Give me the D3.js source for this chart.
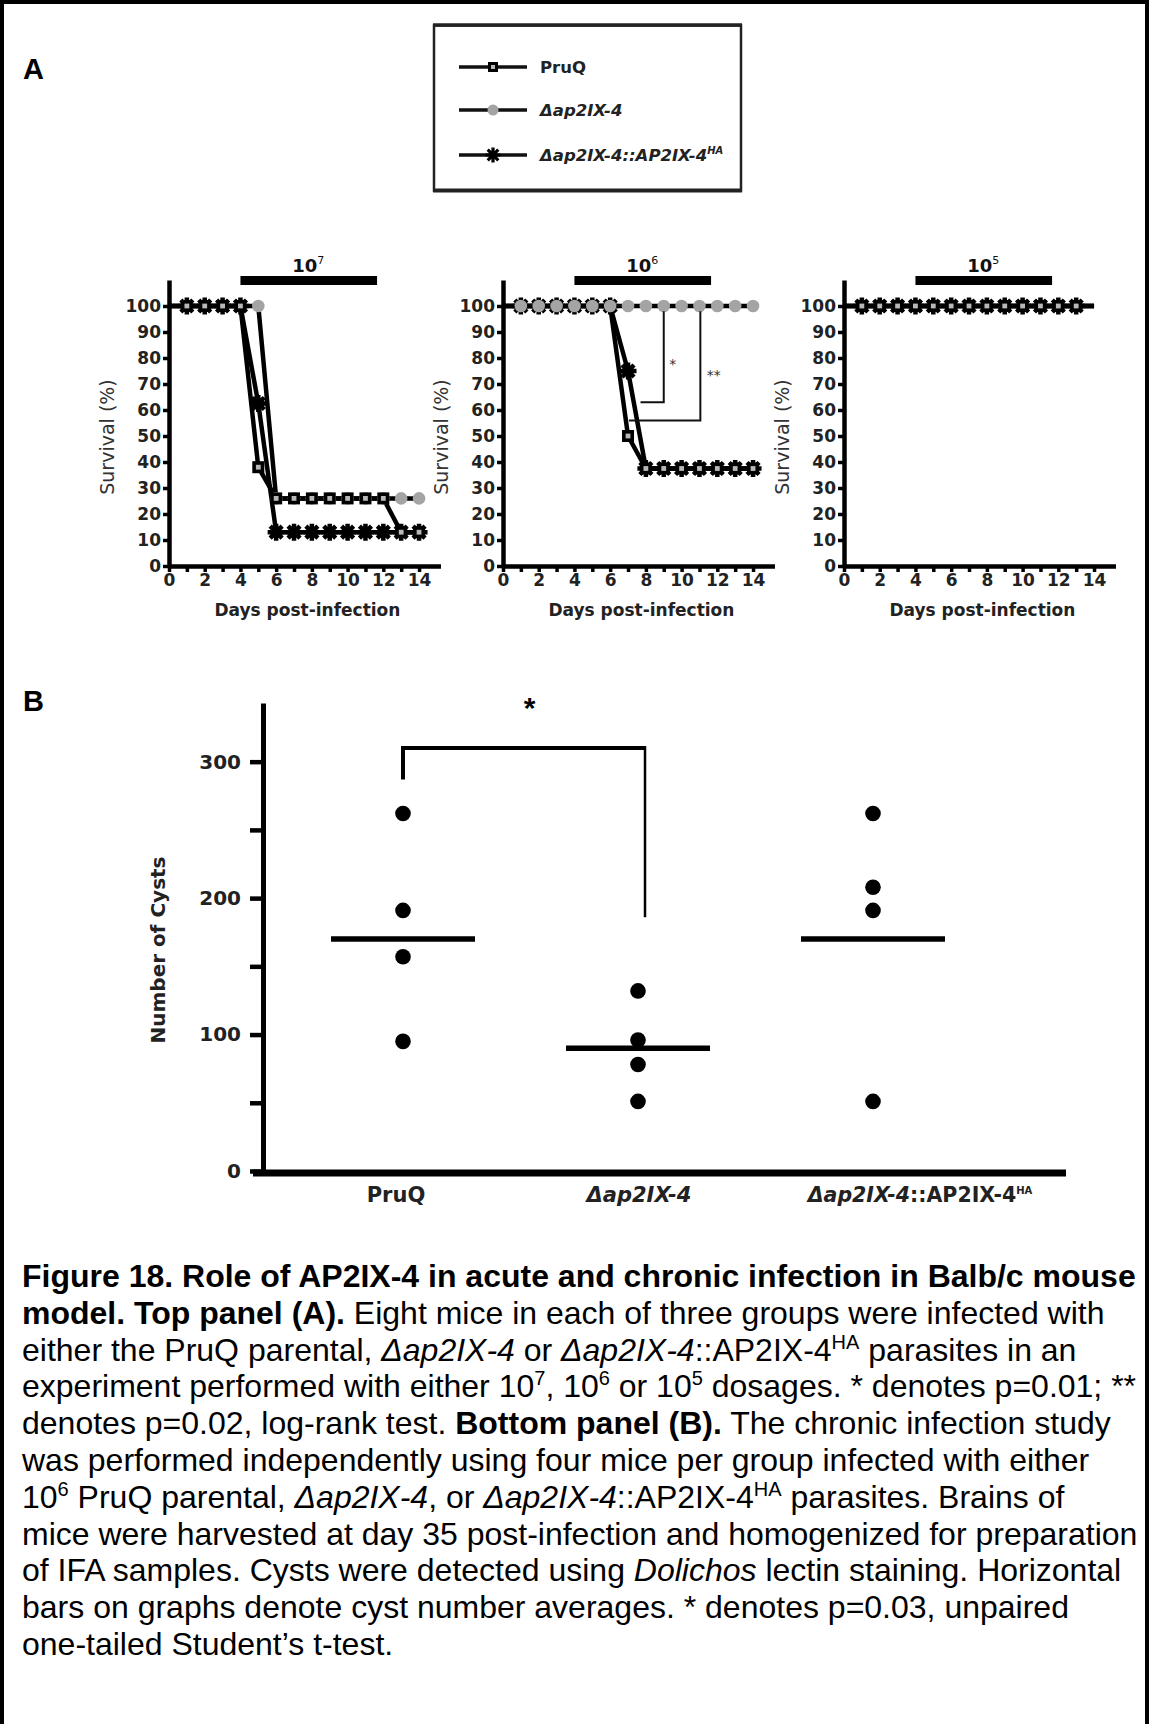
<!DOCTYPE html>
<html>
<head>
<meta charset="utf-8">
<script src="https://cdn.jsdelivr.net/npm/d3@7"></script>
<style>
  body { margin: 0; background: #fff; }
  svg { display: block; }
  text { white-space: pre; }
</style>
</head>
<body>
<div id="chart"></div>
<script>
// ---- data: survival (%) per day, panel A ----
const days = [0, 1, 2, 3, 4, 5, 6, 7, 8, 9, 10, 11, 12, 13, 14];
const markerDaysFull = [1, 2, 3, 4, 5, 6, 7, 8, 9, 10, 11, 12, 13, 14];
const markerDaysShort = [1, 2, 3, 4, 5, 6, 7, 8, 9, 10, 11, 12, 13];

// dose 10^7
const pruq7 = [100, 100, 100, 100, 100, 38, 26, 26, 26, 26, 26, 26, 26, 13, 13];
const ko7 = [100, 100, 100, 100, 100, 100, 26, 26, 26, 26, 26, 26, 26, 26, 26];
const comp7 = [100, 100, 100, 100, 100, 62.5, 13, 13, 13, 13, 13, 13, 13, 13, 13];
// dose 10^6
const pruq6 = [100, 100, 100, 100, 100, 100, 100, 50, 37.5, 37.5, 37.5, 37.5, 37.5, 37.5, 37.5];
const ko6 = [100, 100, 100, 100, 100, 100, 100, 100, 100, 100, 100, 100, 100, 100, 100];
const comp6 = [100, 100, 100, 100, 100, 100, 100, 75, 37.5, 37.5, 37.5, 37.5, 37.5, 37.5, 37.5];
// dose 10^5
const pruq5 = [100, 100, 100, 100, 100, 100, 100, 100, 100, 100, 100, 100, 100, 100, 100];
const ko5 = [100, 100, 100, 100, 100, 100, 100, 100, 100, 100, 100, 100, 100, 100, 100];
const comp5 = [100, 100, 100, 100, 100, 100, 100, 100, 100, 100, 100, 100, 100, 100, 100];

const doseExponents = ["7", "6", "5"];
const survivalTicks = [0, 10, 20, 30, 40, 50, 60, 70, 80, 90, 100];
const dayLabels = [0, 2, 4, 6, 8, 10, 12, 14];

// log-rank brackets in the 10^6 panel: [label, day of vertical, top %, bottom %, day of end, label day, label %]
const sig6 = [
  ["*", 9.0, 98, 63, 7.7, 9.5, 78],
  ["**", 11.05, 98, 56, 7.05, 11.8, 74]
];

// ---- data: cysts per brain, panel B ----
const groups = ["PruQ", "KO", "COMP"];
const cystsPruQ = [262, 191, 157, 95];
const cystsKO = [132, 96, 78, 51];
const cystsComp = [262, 208, 191, 51];
const cystMeans = [170, 90, 170];
const cystTicks = [0, 50, 100, 150, 200, 250, 300];

const FONT = '"Liberation Sans", Arial, Helvetica, sans-serif';
const CFONT = '"DejaVu Sans", Verdana, sans-serif';   // wide face used inside the figure
const W = 1149, H = 1724;

const svg = d3.select("#chart").append("svg")
  .attr("width", W).attr("height", H)
  .attr("font-family", FONT);

// outer frame (left, top, right)
svg.append("path")
  .attr("d", `M2,${H} V2 H${W - 2} V${H}`)
  .attr("fill", "none").attr("stroke", "#000").attr("stroke-width", 4);

// panel letters
svg.append("text").attr("x", 23).attr("y", 79).text("A")
  .attr("font-size", 29).attr("font-weight", "bold");
svg.append("text").attr("x", 23).attr("y", 711).text("B")
  .attr("font-size", 29).attr("font-weight", "bold");

// ---- marker drawing ----
function drawSquare(g, cx, cy, s) {
  g.append("rect").attr("x", cx - s / 2).attr("y", cy - s / 2)
    .attr("width", s).attr("height", s).attr("fill", "#000");
  g.append("rect").attr("x", cx - s * 0.2).attr("y", cy - s * 0.2)
    .attr("width", s * 0.4).attr("height", s * 0.4).attr("fill", "#b8b8b8");
}
function drawStar(g, cx, cy, r, w) {
  const d = r * 0.7071;
  g.append("path")
    .attr("d", `M${cx - r},${cy}H${cx + r}M${cx},${cy - r}V${cy + r}` +
      `M${cx - d},${cy - d}L${cx + d},${cy + d}M${cx - d},${cy + d}L${cx + d},${cy - d}`)
    .attr("stroke", "#000").attr("stroke-width", w).attr("stroke-linecap", "butt");
}
function drawCircle(g, cx, cy, r) {
  g.append("circle").attr("cx", cx).attr("cy", cy).attr("r", r).attr("fill", "#a4a4a4");
}

// ---- legend ----
const legend = svg.append("g").attr("font-family", CFONT);
legend.append("rect").attr("x", 434).attr("y", 25.5).attr("width", 307).attr("height", 165)
  .attr("fill", "none").attr("stroke", "#222").attr("stroke-width", 2.5);
legend.append("line").attr("x1", 433).attr("x2", 742).attr("y1", 25).attr("y2", 25)
  .attr("stroke", "#222").attr("stroke-width", 3.5);
legend.append("line").attr("x1", 433).attr("x2", 742).attr("y1", 190.5).attr("y2", 190.5)
  .attr("stroke", "#222").attr("stroke-width", 4);
const legRows = [67, 110, 155];
legRows.forEach((yy, i) => {
  legend.append("line").attr("x1", 459).attr("x2", 527).attr("y1", yy).attr("y2", yy)
    .attr("stroke", "#111").attr("stroke-width", 3.5);
  if (i === 0) drawSquare(legend, 493, yy, 10);
  if (i === 1) drawCircle(legend, 493, yy, 5.5);
  if (i === 2) drawStar(legend, 493, yy, 7.5, 3.2);
});
const legText = (yy) => legend.append("text").attr("x", 540).attr("y", yy + 6)
  .attr("font-size", 16.5).attr("font-weight", "bold").attr("fill", "#222");
legText(legRows[0]).text("PruQ");
legText(legRows[1]).attr("font-style", "italic").text("\u0394ap2IX-4");
const lt3 = legText(legRows[2]).attr("font-style", "italic");
lt3.append("tspan").text("\u0394ap2IX-4::AP2IX-4");
lt3.append("tspan").attr("font-size", 10).attr("dy", -7).text("HA");

// ---- survival panels ----
const panels = [
  { x0: 169, series: [pruq7, ko7, comp7], markerDays: markerDaysFull, order: ["circle", "star", "square"], sig: [] },
  { x0: 503, series: [pruq6, ko6, comp6], markerDays: markerDaysFull, order: ["star", "square", "circle"], sig: sig6 },
  { x0: 844, series: [pruq5, ko5, comp5], markerDays: markerDaysShort, order: ["circle", "star", "square"], sig: [] }
];
const dayPx = 17.86;
const yS = d3.scaleLinear().domain([0, 110]).range([566, 280]);

panels.forEach((p, pi) => {
  const x = d3.scaleLinear().domain([0, 15.2]).range([p.x0, p.x0 + 15.2 * dayPx]);
  const g = svg.append("g").attr("font-family", CFONT);

  // dose bar and title
  g.append("rect").attr("x", x(4)).attr("y", 276)
    .attr("width", x(11.65) - x(4)).attr("height", 9).attr("fill", "#000");
  const t = g.append("text").attr("x", x(7.8)).attr("y", 272)
    .attr("text-anchor", "middle").attr("font-size", 18).attr("font-weight", "bold").attr("fill", "#111");
  t.append("tspan").text("10");
  t.append("tspan").attr("font-size", 11).attr("dy", -8).attr("font-weight", "normal").text(doseExponents[pi]);

  // axes
  const ya = g.append("g").attr("transform", `translate(${p.x0},0)`)
    .call(d3.axisLeft(yS).tickValues(survivalTicks).tickSize(6).tickPadding(2).tickSizeOuter(0));
  const xa = g.append("g").attr("transform", `translate(0,${yS(0)})`)
    .call(d3.axisBottom(x).tickValues(days).tickSize(6).tickPadding(2).tickSizeOuter(0)
      .tickFormat(d => dayLabels.includes(d) ? d : ""));
  [ya, xa].forEach(a => {
    a.attr("font-family", CFONT).attr("font-size", 17);
    a.select(".domain").attr("stroke", "#000").attr("stroke-width", 4.5);
    a.selectAll(".tick line").attr("stroke", "#000").attr("stroke-width", 3.5);
    a.selectAll(".tick text").attr("fill", "#222").attr("font-weight", "bold");
  });

  // axis titles
  g.append("text")
    .attr("transform", `translate(${p.x0 - 55},437) rotate(-90)`)
    .attr("text-anchor", "middle").attr("font-size", 19).attr("fill", "#333")
    .text("Survival (%)");
  g.append("text").attr("x", x(7.75)).attr("y", 616)
    .attr("text-anchor", "middle").attr("font-size", 17).attr("font-weight", "bold").attr("fill", "#222")
    .text("Days post-infection");

  // survival lines
  const line = d3.line().x((d, i) => x(days[i])).y(d => yS(d));
  p.series.forEach(s => {
    g.append("path").datum(s).attr("d", line)
      .attr("fill", "none").attr("stroke", "#000").attr("stroke-width", 4.5)
      .attr("stroke-linejoin", "round");
  });

  // markers
  const mg = g.append("g");
  p.order.forEach(kind => {
    p.markerDays.forEach(dd => {
      const i = days.indexOf(dd);
      if (kind === "square") drawSquare(mg, x(dd), yS(p.series[0][i]), 12);
      if (kind === "circle") drawCircle(mg, x(dd), yS(p.series[1][i]), 6.3);
      if (kind === "star") drawStar(mg, x(dd), yS(p.series[2][i]), 8.5, 4.5);
    });
  });

  // significance brackets
  p.sig.forEach(([lab, dv, top, bot, dEnd, ldx, ly]) => {
    g.append("path")
      .attr("d", `M${x(dv)},${yS(top)} V${yS(bot)} H${x(dEnd)}`)
      .attr("fill", "none").attr("stroke", "#111").attr("stroke-width", 2);
    g.append("text").attr("x", x(ldx)).attr("y", yS(ly) + 6)
      .attr("text-anchor", "middle").attr("font-size", 14).attr("fill", "#333").text(lab);
  });
});

// ---- panel B: cyst counts ----
const yB = d3.scaleLinear().domain([0, 343]).range([1171, 703]);
const xB = d3.scalePoint().domain(groups).range([403, 873]);
const gB = svg.append("g").attr("font-family", CFONT);

const yaB = gB.append("g").attr("transform", "translate(263,0)")
  .call(d3.axisLeft(yB).tickValues(cystTicks).tickSize(13).tickPadding(9).tickSizeOuter(0)
    .tickFormat(d => d % 100 === 0 ? d : ""));
yaB.attr("font-family", CFONT).attr("font-size", 20);
yaB.select(".domain").attr("stroke", "#000").attr("stroke-width", 5);
yaB.selectAll(".tick line").attr("stroke", "#000").attr("stroke-width", 4.5);
yaB.selectAll(".tick text").attr("fill", "#222").attr("font-weight", "bold");

// category baseline
gB.append("line").attr("x1", 253).attr("x2", 1066)
  .attr("y1", yB(0) + 2).attr("y2", yB(0) + 2)
  .attr("stroke", "#000").attr("stroke-width", 7);

gB.append("text")
  .attr("transform", `translate(165,950) rotate(-90)`)
  .attr("text-anchor", "middle").attr("font-size", 20).attr("font-weight", "bold")
  .attr("fill", "#222")
  .text("Number of Cysts");

// category labels
const labOffset = [-7, 1, 47];
const labY = 1202;
gB.append("text").attr("x", xB(groups[0]) + labOffset[0]).attr("y", labY)
  .attr("text-anchor", "middle").attr("font-size", 21).attr("font-weight", "bold").attr("fill", "#222")
  .text("PruQ");
gB.append("text").attr("x", xB(groups[1]) + labOffset[1]).attr("y", labY)
  .attr("text-anchor", "middle").attr("font-size", 21).attr("font-weight", "bold").attr("fill", "#222")
  .attr("font-style", "italic").text("\u0394ap2IX-4");
const l2 = gB.append("text").attr("x", xB(groups[2]) + labOffset[2]).attr("y", labY)
  .attr("text-anchor", "middle").attr("font-size", 20.5).attr("font-weight", "bold").attr("fill", "#222");
l2.append("tspan").attr("font-style", "italic").text("\u0394ap2IX-4");
l2.append("tspan").text("::AP2IX-4");
l2.append("tspan").attr("font-size", 10).attr("dy", -8).text("HA");

// means
cystMeans.forEach((m, i) => {
  gB.append("line")
    .attr("x1", xB(groups[i]) - 72).attr("x2", xB(groups[i]) + 72)
    .attr("y1", yB(m)).attr("y2", yB(m))
    .attr("stroke", "#000").attr("stroke-width", 5.5);
});

// dots
[cystsPruQ, cystsKO, cystsComp].forEach((vals, i) => {
  gB.selectAll(null).data(vals).join("circle")
    .attr("cx", xB(groups[i])).attr("cy", d => yB(d)).attr("r", 7.8).attr("fill", "#000");
});

// t-test bracket
gB.append("path")
  .attr("d", `M${xB(groups[0])},${yB(287)} V${yB(310)} H${xB(groups[1]) + 7}`)
  .attr("fill", "none").attr("stroke", "#000").attr("stroke-width", 4);
gB.append("path")
  .attr("d", `M${xB(groups[1]) + 7},${yB(310) - 2} V${yB(186)}`)
  .attr("fill", "none").attr("stroke", "#000").attr("stroke-width", 2.5);
gB.append("text").attr("x", (xB(groups[0]) + xB(groups[1])) / 2 + 9).attr("y", 718)
  .attr("text-anchor", "middle").attr("font-size", 30).attr("font-weight", "bold")
  .attr("font-family", FONT).text("*");

// ---- caption ----
const captionLines = [
  [["Figure 18. Role of AP2IX-4 in acute and chronic infection in Balb/c mouse", "b"]],
  [["model. Top panel (A).", "b"], [" Eight mice in each of three groups were infected with", ""]],
  [["either the PruQ parental, ", ""], ["\u0394ap2IX-4", "i"], [" or ", ""], ["\u0394ap2IX-4", "i"],
   ["::AP2IX-4", ""], ["HA", "sup"], [" parasites in an", ""]],
  [["experiment performed with either 10", ""], ["7", "sup"], [", 10", ""], ["6", "sup"],
   [" or 10", ""], ["5", "sup"], [" dosages. * denotes p=0.01; **", ""]],
  [["denotes p=0.02, log-rank test. ", ""], ["Bottom panel (B).", "b"], [" The chronic infection study", ""]],
  [["was performed independently using four mice per group infected with either", ""]],
  [["10", ""], ["6", "sup"], [" PruQ parental, ", ""], ["\u0394ap2IX-4", "i"], [", or ", ""],
   ["\u0394ap2IX-4", "i"], ["::AP2IX-4", ""], ["HA", "sup"], [" parasites. Brains of", ""]],
  [["mice were harvested at day 35 post-infection and homogenized for preparation", ""]],
  [["of IFA samples. Cysts were detected using ", ""], ["Dolichos", "i"], [" lectin staining. Horizontal", ""]],
  [["bars on graphs denote cyst number averages. * denotes p=0.03, unpaired", ""]],
  [["one-tailed Student\u2019s t-test.", ""]]
];
captionLines.forEach((segs, li) => {
  const t = svg.append("text").attr("x", 22).attr("y", 1287 + li * 36.8)
    .attr("font-size", 32).attr("fill", "#000");
  let shift = 0;
  segs.forEach(([s, st]) => {
    const ts = t.append("tspan").text(s);
    if (st === "sup") {
      ts.attr("font-size", 20).attr("dy", -12 - shift);
      shift = 12;
    } else if (shift) {
      ts.attr("dy", shift);
      shift = 0;
    }
    if (st === "b") ts.attr("font-weight", "bold");
    if (st === "i") ts.attr("font-style", "italic");
  });
});
</script>
</body>
</html>
